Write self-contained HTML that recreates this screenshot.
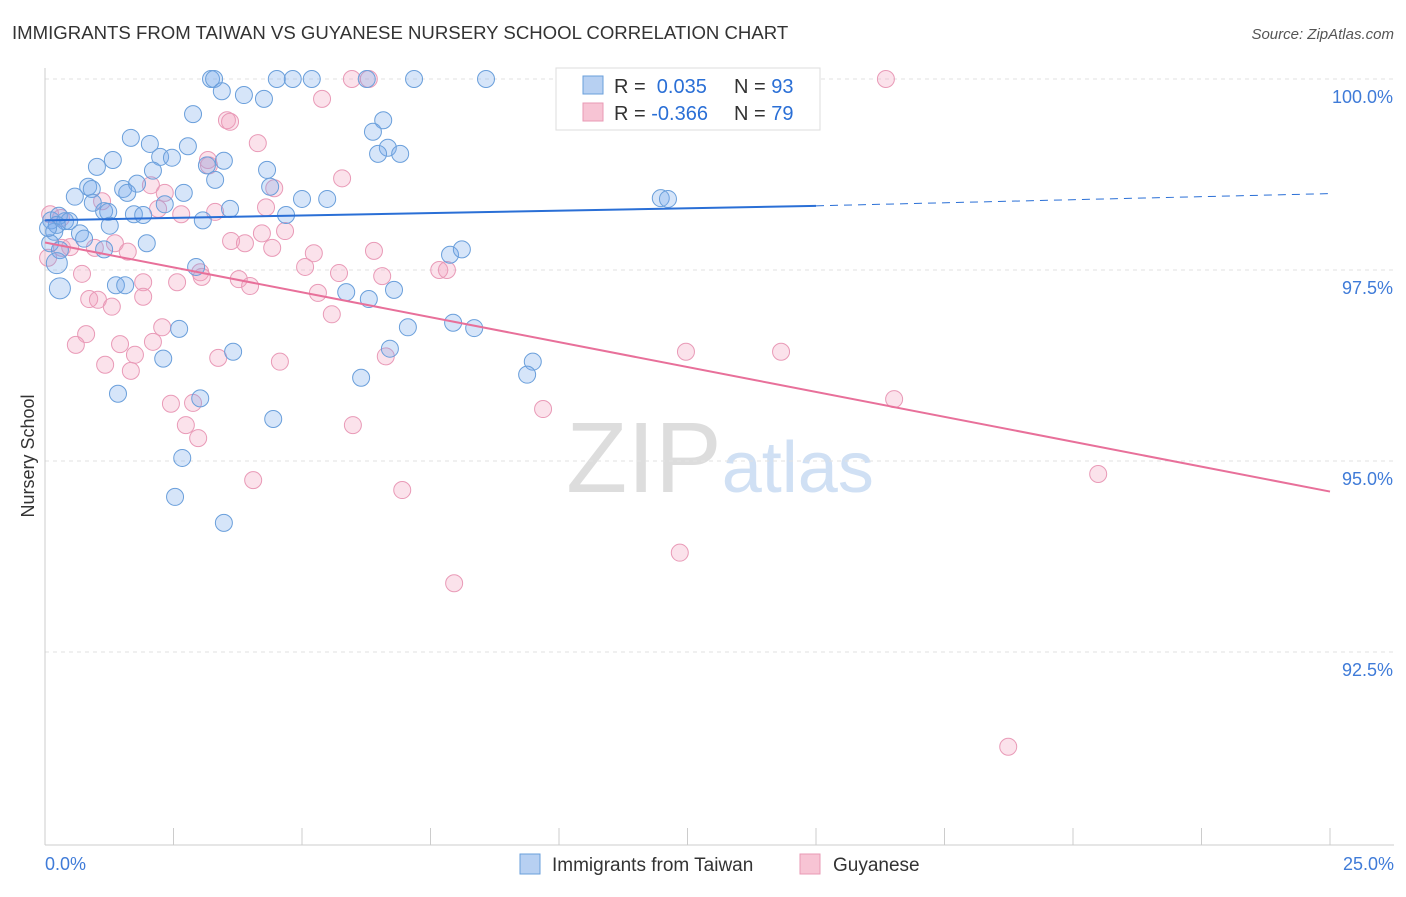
<!DOCTYPE html>
<html><head><meta charset="utf-8"><style>
body{margin:0;background:#fff;font-family:"Liberation Sans",sans-serif}
svg text{font-family:"Liberation Sans",sans-serif}
</style></head><body>
<svg id="chart" width="1406" height="892">
<text x="12" y="39" font-size="18.6" fill="#333">IMMIGRANTS FROM TAIWAN VS GUYANESE NURSERY SCHOOL CORRELATION CHART</text>
<text x="1394" y="39" font-size="15" fill="#555" text-anchor="end" font-style="italic">Source: ZipAtlas.com</text>
<text x="720" y="492" font-size="100" fill="#ddd" font-family="Liberation Serif" text-anchor="middle">ZIP<tspan fill="#d0e0f4" font-family="Liberation Sans" font-size="72">atlas</tspan></text>
<g id="grid"></g><g id="axes"></g><g id="pts"></g><g id="trend"></g>
<text transform="translate(34,456) rotate(-90)" font-size="18" fill="#333" text-anchor="middle">Nursery School</text>
<g>
<rect x="556" y="68" width="264" height="62" fill="#fff" stroke="#ddd"/>
<rect x="583" y="76" width="20" height="18" fill="#b7d0f2" stroke="#6a9fdb"/>
<rect x="583" y="103" width="20" height="18" fill="#f7c4d4" stroke="#e89ab5"/>
<text x="614" y="93" font-size="20" fill="#333">R = <tspan fill="#2a6fd6">&#160;0.035</tspan><tspan x="734">N = </tspan><tspan fill="#2a6fd6">93</tspan></text>
<text x="614" y="120" font-size="20" fill="#333">R = <tspan fill="#2a6fd6">-0.366</tspan><tspan x="734">N = </tspan><tspan fill="#2a6fd6">79</tspan></text>
</g>
<g>
<rect x="520" y="854" width="20" height="20" fill="#b7d0f2" stroke="#6a9fdb"/>
<text x="552" y="871" font-size="19" fill="#333">Immigrants from Taiwan</text>
<rect x="800" y="854" width="20" height="20" fill="#f7c4d4" stroke="#e89ab5"/>
<text x="833" y="871" font-size="19" fill="#333">Guyanese</text>
</g>
</svg>
<script>
const yTicks=[100,97.5,95,92.5];
const yTickLabels=["100.0%","97.5%","95.0%","92.5%"];
const xLabels=["0.0%","25.0%"];
const blueX=[3.23,3.29,4.51,4.82,5.19,6.26,7.18,8.58,11.75,3.44,3.87,4.26,2.88,6.58,6.38,1.67,2.04,2.78,6.67,6.48,6.91,1.32,2.24,2.47,3.48,1.01,3.15,4.32,2.10,3.31,0.84,0.91,1.52,1.79,1.60,2.70,4.38,0.58,5.00,5.49,11.98,12.12,2.33,0.93,1.15,1.23,3.60,4.69,1.73,1.91,0.12,0.39,0.27,0.47,3.07,1.26,0.68,0.18,0.76,0.10,1.98,1.15,0.29,7.88,8.11,2.94,0.23,0.29,1.38,1.56,5.86,6.30,6.79,2.61,7.06,7.94,8.35,3.66,6.71,2.30,9.49,9.38,6.15,1.42,3.02,4.44,2.67,2.53,3.48,0.23,0.06];
const blueY=[100,100,100,100,100,100,100,100,100,99.84,99.79,99.74,99.54,99.46,99.31,99.23,99.15,99.12,99.10,99.02,99.02,98.94,98.98,98.97,98.93,98.85,98.87,98.81,98.80,98.68,98.59,98.56,98.56,98.63,98.51,98.51,98.59,98.46,98.43,98.43,98.44,98.43,98.36,98.38,98.27,98.26,98.30,98.22,98.23,98.22,98.15,98.14,98.21,98.14,98.15,98.08,97.98,98.00,97.91,97.85,97.85,97.77,97.76,97.70,97.77,97.54,97.59,97.26,97.30,97.30,97.21,97.12,97.24,96.73,96.75,96.81,96.74,96.43,96.47,96.34,96.30,96.13,96.09,95.88,95.82,95.55,95.04,94.53,94.19,98.09,98.05];
const pinkX=[5.97,6.30,16.36,5.39,3.54,3.60,4.14,3.17,3.19,5.78,2.06,4.46,2.33,1.11,2.20,3.31,2.65,4.30,0.10,0.31,3.62,4.22,4.67,3.89,4.42,5.23,6.40,1.36,1.61,0.49,0.33,0.97,0.06,5.06,5.72,7.67,7.82,3.02,3.05,3.77,3.99,6.56,0.72,2.57,1.91,5.31,0.86,1.03,1.91,1.30,5.58,2.28,0.80,1.46,2.10,0.60,1.75,1.17,3.37,4.57,6.63,1.67,12.47,14.32,2.45,2.88,2.74,2.98,9.69,5.99,16.52,4.05,6.95,20.49,12.35,7.96,18.74];
const pinkY=[100,100,100,99.74,99.46,99.44,99.16,98.94,98.87,98.70,98.61,98.57,98.51,98.40,98.30,98.26,98.23,98.32,98.23,98.18,97.88,97.98,98.01,97.85,97.79,97.72,97.75,97.85,97.74,97.80,97.79,97.79,97.66,97.54,97.46,97.50,97.50,97.47,97.41,97.38,97.29,97.42,97.45,97.34,97.34,97.20,97.12,97.11,97.15,97.02,96.92,96.75,96.66,96.53,96.56,96.52,96.39,96.26,96.35,96.30,96.37,96.18,96.43,96.43,95.75,95.76,95.47,95.30,95.68,95.47,95.81,94.75,94.62,94.83,93.80,93.40,91.26];
const blueTrend=[[0,98.15],[15,98.34],[25,98.50]];
const pinkTrend=[[0,97.86],[25,94.60]];
const NS="http://www.w3.org/2000/svg";
const sx=v=>45+v/25*1285, sy=v=>79+(100-v)*76.4;
function mk(t,a,p){const e=document.createElementNS(NS,t);for(const k in a)e.setAttribute(k,a[k]);document.getElementById(p).appendChild(e);return e;}
yTicks.forEach((t,i)=>{
 const g=mk('line',{x1:45,x2:1394,y1:sy(t),y2:sy(t),stroke:'#e2e2e2','stroke-dasharray':'4,4'},'grid');
 
 
 const l=mk('text',{x:1393,y:sy(t)+24,'font-size':18,fill:'#3f7bd8','text-anchor':'end'},'axes');l.textContent=yTickLabels[i];
 
 
});
mk('line',{x1:45,x2:45,y1:68,y2:845,stroke:'#ccc'},'axes');
mk('line',{x1:45,x2:1394,y1:845,y2:845,stroke:'#ccc'},'axes');
for(let i=1;i<=10;i++){mk('line',{x1:sx(i*2.5),x2:sx(i*2.5),y1:828,y2:845,stroke:'#ccc'},'axes');}
const xl0=mk('text',{x:45,y:870,'font-size':18,fill:'#3f7bd8'},'axes');xl0.textContent=xLabels[0];


const xl1=mk('text',{x:1394,y:870,'font-size':18,fill:'#3f7bd8','text-anchor':'end'},'axes');xl1.textContent=xLabels[1];


pinkX.forEach((x,i)=>{const c=mk('circle',{cx:sx(x),cy:sy(pinkY[i]),r:8.5,fill:'rgba(242,160,188,0.3)',stroke:'#e99ab7','stroke-width':1},'pts');
 
 });
blueX.forEach((x,i)=>{const big=(i==67||i==66);const c=mk('circle',{cx:sx(x),cy:sy(blueY[i]),r:big?10.5:8.5,fill:'rgba(120,170,235,0.3)',stroke:'#6a9fdb','stroke-width':1},'pts');
 
 });
const b1=mk('line',{x1:sx(blueTrend[0][0]),y1:sy(blueTrend[0][1]),x2:sx(blueTrend[1][0]),y2:sy(blueTrend[1][1]),stroke:'#2a6fd6','stroke-width':2},'trend');


const b2=mk('line',{x1:sx(blueTrend[1][0]),y1:sy(blueTrend[1][1]),x2:sx(blueTrend[2][0]),y2:sy(blueTrend[2][1]),stroke:'#2a6fd6','stroke-width':1,'stroke-dasharray':'8,6'},'trend');


const p1=mk('line',{x1:sx(pinkTrend[0][0]),y1:sy(pinkTrend[0][1]),x2:sx(pinkTrend[1][0]),y2:sy(pinkTrend[1][1]),stroke:'#e8709a','stroke-width':2},'trend');


</script>
</body></html>
